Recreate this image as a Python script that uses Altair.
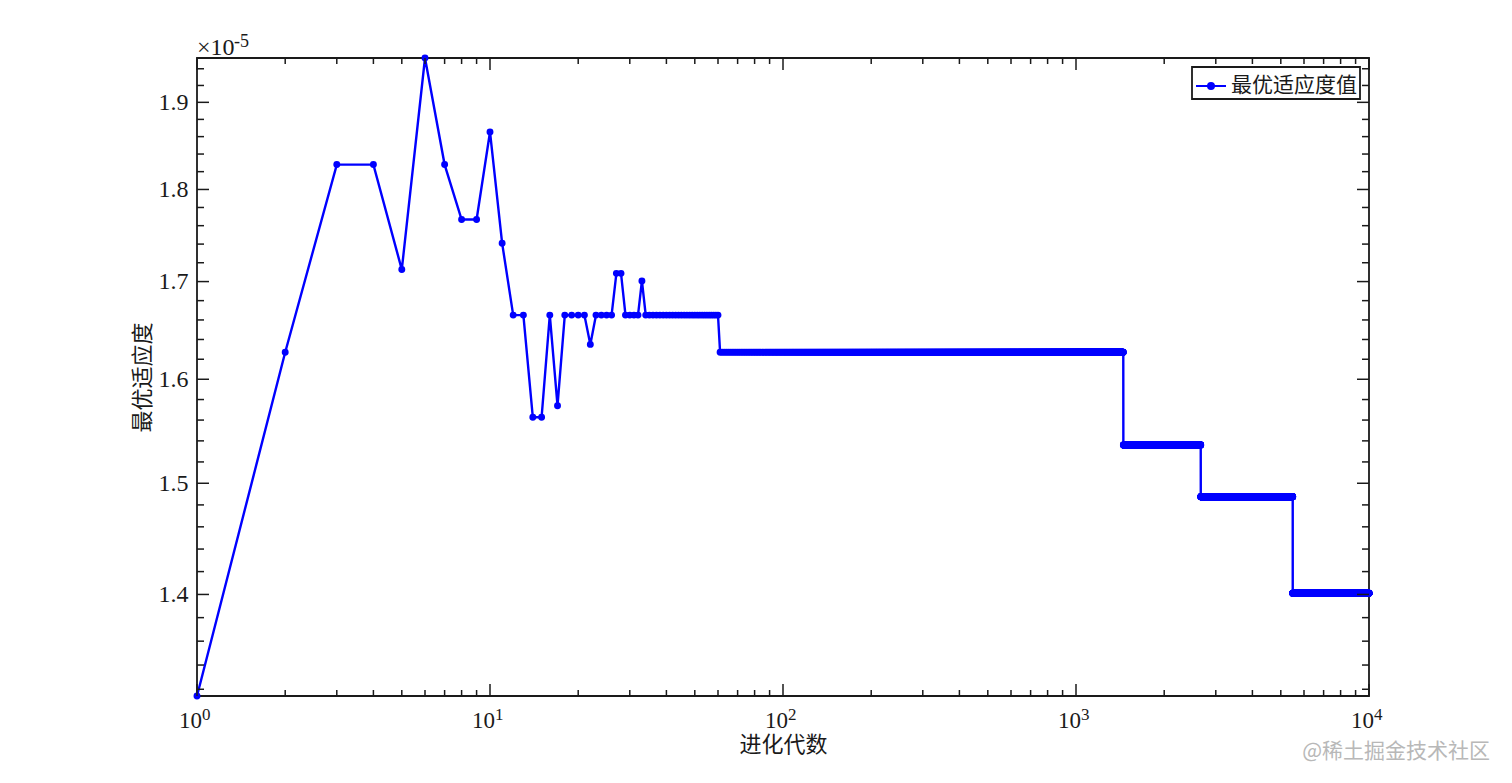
import altair as alt
import pandas as pd

# ---------------- data (values in units of 1e-5) ----------------
early_gens = list(range(1, 35))
early_vals = [1.3145, 1.627, 1.828, 1.828, 1.7127, 1.953, 1.828, 1.7667, 1.7667, 1.8654,
              1.741, 1.665, 1.665, 1.5627, 1.5627, 1.665, 1.574, 1.665, 1.665, 1.665,
              1.665, 1.635, 1.665, 1.665, 1.665, 1.665, 1.7087, 1.7087, 1.665, 1.665,
              1.665, 1.665, 1.7007, 1.665]
plateau_start = [35, 61, 1451, 2666, 5492]
plateau_end = [60, 1450, 2665, 5491, 10000]
plateau_vals = [1.665, 1.627, 1.536, 1.4875, 1.401]

series_name = "最优适应度值"
x_title = "进化代数"
y_title = "最优适应度"
exp_base_text = "×10"
exp_power_text = "-5"
watermark_text = "@稀土掘金技术社区"

x_major_ticks = [1, 10, 100, 1000, 10000]
x_label_base = ["10", "10", "10", "10", "10"]
x_label_power = ["0", "1", "2", "3", "4"]
x_minor_ticks = [m * d for d in [1, 10, 100, 1000] for m in range(2, 10)]
y_major_ticks = [1.4, 1.5, 1.6, 1.7, 1.8, 1.9]
y_minor_ticks = [1.32, 1.34, 1.36, 1.38, 1.42, 1.44, 1.46, 1.48, 1.52, 1.54, 1.56, 1.58,
                 1.62, 1.64, 1.66, 1.68, 1.72, 1.74, 1.76, 1.78, 1.82, 1.84, 1.86, 1.88,
                 1.92, 1.94]

# ---------------- build table ----------------
gens = list(early_gens)
vals = list(early_vals)
for s, e, v in zip(plateau_start, plateau_end, plateau_vals):
    for g in range(s, e + 1):
        gens.append(g)
        vals.append(v)
df = pd.DataFrame({"gen": gens, "val": vals, "series": series_name})

W, H = 1172, 638
BLUE = "#0000FF"
INK = "#1a1a1a"
NUM_FONT = "Liberation Serif"
CJK_FONT = "Liberation Serif, Noto Sans CJK SC"

xscale = alt.Scale(type="log", domain=[1, 10000], nice=False)
yscale = alt.Scale(type="log", domain=[min(vals), max(vals)], nice=False, zero=False)

x_axis = alt.Axis(values=x_major_ticks, labels=False,
                  ticks=False, domain=False, grid=False,
                  title=x_title, titleFont=CJK_FONT, titleFontSize=22, titleFontWeight="normal",
                  titleColor=INK, titlePadding=38)
y_axis = alt.Axis(values=y_major_ticks, format=".1f",
                  ticks=False, domain=False, grid=False,
                  labelFont=NUM_FONT, labelFontSize=24, labelColor=INK, labelPadding=9,
                  labelFlush=False, labelOverlap=False,
                  title=y_title, titleFont=CJK_FONT, titleFontSize=22, titleFontWeight="normal",
                  titleColor=INK, titlePadding=4)

base = alt.Chart(df)
line = base.mark_line(strokeWidth=2.4).encode(
    x=alt.X("gen:Q", scale=xscale, axis=x_axis),
    y=alt.Y("val:Q", scale=yscale, axis=y_axis),
    color=alt.Color("series:N", scale=alt.Scale(domain=[series_name], range=[BLUE]),
                    title=None,
                    legend=alt.Legend(orient="top-right", offset=9,
                                      strokeColor=INK, fillColor="white", padding=3,
                                      labelFont=CJK_FONT, labelFontSize=21, labelColor=INK,
                                      labelOffset=4,
                                      symbolType="M-1,0H1M-0.2,0A0.2,0.2,0,1,0,0.2,0A0.2,0.2,0,1,0,-0.2,0Z",
                                      symbolSize=900, symbolStrokeWidth=2,
                                      symbolFillColor=BLUE, symbolStrokeColor=BLUE)),
)
points = base.mark_circle(size=48, color=BLUE, opacity=1).encode(
    x=alt.X("gen:Q", scale=xscale, axis=x_axis),
    y=alt.Y("val:Q", scale=yscale, axis=y_axis),
)

def xticks(values, length):
    d = alt.Chart(pd.DataFrame({"t": values}))
    bot = d.mark_rule(color=INK, strokeWidth=1.5).encode(
        x=alt.X("t:Q", scale=xscale, axis=x_axis), y=alt.value(H), y2=alt.value(H - length))
    top = d.mark_rule(color=INK, strokeWidth=1.5).encode(
        x=alt.X("t:Q", scale=xscale, axis=x_axis), y=alt.value(0), y2=alt.value(length))
    return [bot, top]

def yticks(values, length):
    d = alt.Chart(pd.DataFrame({"t": values}))
    left = d.mark_rule(color=INK, strokeWidth=1.5).encode(
        y=alt.Y("t:Q", scale=yscale, axis=y_axis), x=alt.value(0), x2=alt.value(length))
    right = d.mark_rule(color=INK, strokeWidth=1.5).encode(
        y=alt.Y("t:Q", scale=yscale, axis=y_axis), x=alt.value(W), x2=alt.value(W - length))
    return [left, right]

xlab_df = pd.DataFrame({"t": x_major_ticks, "b": x_label_base, "p": x_label_power})
xlab_base = alt.Chart(xlab_df).mark_text(
    align="right", baseline="alphabetic", dx=5, font=NUM_FONT, fontSize=23, color=INK
).encode(x=alt.X("t:Q", scale=xscale, axis=x_axis), y=alt.value(H + 32), text="b:N")
xlab_pow = alt.Chart(xlab_df).mark_text(
    align="left", baseline="alphabetic", dx=5, font=NUM_FONT, fontSize=17, color=INK
).encode(x=alt.X("t:Q", scale=xscale, axis=x_axis), y=alt.value(H + 24), text="p:N")

exp_df = pd.DataFrame({"b": [exp_base_text], "p": [exp_power_text]})
exp_base = alt.Chart(exp_df).mark_text(
    align="left", baseline="alphabetic", font=NUM_FONT, fontSize=24, color=INK
).encode(text="b:N", x=alt.value(0), y=alt.value(-3))
exp_pow = alt.Chart(exp_df).mark_text(
    align="left", baseline="alphabetic", font=NUM_FONT, fontSize=18, color=INK
).encode(text="p:N", x=alt.value(37), y=alt.value(-11))

watermark = alt.Chart(pd.DataFrame({"txt": [watermark_text]})).mark_text(
    align="right", baseline="middle", font="Noto Sans CJK SC", fontSize=21, color="#b8b8b8"
).encode(text="txt:N", x=alt.value(W + 121), y=alt.value(H + 56))

layers = [line, points] + xticks(x_major_ticks, 12) + xticks(x_minor_ticks, 6) \
    + yticks(y_major_ticks, 12) + yticks(y_minor_ticks, 7) \
    + [xlab_base, xlab_pow, exp_base, exp_pow, watermark]

chart = alt.layer(*layers).properties(
    width=W, height=H,
    autosize=alt.AutoSizeParams(type="none"),
    padding={"left": 189, "top": 50, "right": 135, "bottom": 79},
    background="white",
).configure_view(stroke=INK, strokeWidth=1.8).configure_legend(strokeWidth=1.8)

chart.save("out.html", embed_options={"renderer": "svg", "actions": False})
